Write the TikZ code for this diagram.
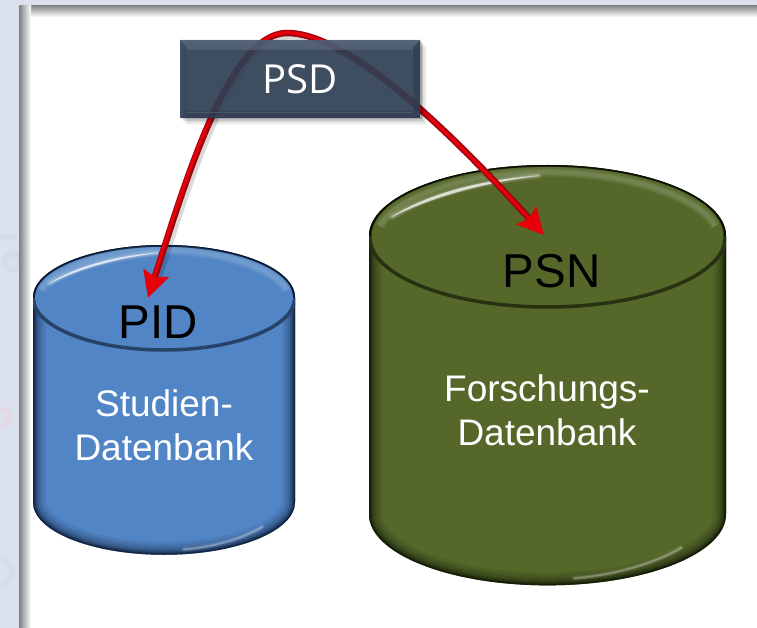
\documentclass[tikz,border=0pt]{standalone}
\usepackage{fontspec}
\setmainfont{Liberation Sans}
\newfontfamily\boxfont{Open Sans}
\usetikzlibrary{arrows.meta}
\definecolor{pagebg}{RGB}{219,226,238}
\definecolor{framegray}{RGB}{125,128,132}
\definecolor{bluebase}{RGB}{82,133,197}
\definecolor{bluedark}{RGB}{6,18,40}
\definecolor{bluerim}{RGB}{38,66,104}
\definecolor{olivebase}{RGB}{85,104,42}
\definecolor{olivedark}{RGB}{8,12,2}
\definecolor{oliverim}{RGB}{38,50,18}
\definecolor{boxbase}{RGB}{50,66,88}
\definecolor{boxlight}{RGB}{98,112,132}
\definecolor{boxdark}{RGB}{44,56,74}
\definecolor{arrowdark}{RGB}{160,5,15}
\definecolor{arrowbright}{RGB}{232,0,8}
\definecolor{ghost}{RGB}{208,215,228}
\definecolor{ghostpink}{RGB}{228,216,228}
\tikzset{
  cyllabel/.style={text=white,align=center,font=\fontsize{37}{44}\selectfont},
  keylabel/.style={text=black,font=\fontsize{47.5}{50}\selectfont},
  boxlabel/.style={text=white,font=\boxfont\fontsize{40}{44}\selectfont},
  redline/.style={line width=6.5pt,draw=arrowdark,
    >={Stealth[color=arrowbright,length=26pt,width=26pt,inset=4pt]}},
  redcore/.style={line width=3pt,draw=arrowbright},
}
% #1 cx, #2 cy of top ellipse, #3 rx, #4 ry, #5 body height in units of ry,
% #6 base, #7 dark, #8 rim, #9 node name
\newcommand{\dbcylinder}[9]{%
  \begin{scope}[shift={(#1,#2)},x=#3pt,y=-#4pt]
    \def\bodypath{(-1,0) .. controls (-1,-.552) and (-.552,-1) .. (0,-1)
      .. controls (.552,-1) and (1,-.552) .. (1,0) -- (1,#5)
      .. controls (1,#5+.552) and (.552,#5+1) .. (0,#5+1)
      .. controls (-.552,#5+1) and (-1,#5+.552) .. (-1,#5) -- cycle}
    \fill[#6] \bodypath;
    \begin{scope}
      \clip \bodypath;
      \foreach \w/\o in {26/.08,20/.10,15/.13,10/.20,6/.32,3/.50}{
        \draw[#7,line width=\w pt,opacity=\o] \bodypath;
      }
      % lower highlight
      \foreach \w/\o in {5/.07,3/.12,1.5/.22}{
        \draw[white,line width=\w pt,opacity=\o,line cap=round]
          (.15,#5+.90) .. controls (.35,#5+.86) and (.58,#5+.72) .. (.75,#5+.47);
      }
      % top face
      \fill[#6] (0,0) circle[radius=.985];
      \foreach \w/\o in {10/.05,7/.07,4/.08}{
        \draw[white,line width=\w pt,opacity=\o]
          (-.94,-.14) .. controls (-.85,-.55) and (-.45,-.90) .. (0,-.90)
          .. controls (.45,-.90) and (.85,-.55) .. (.94,-.14);
      }
      % upper left highlight
      \foreach \w/\o in {7/.08,5/.10,3/.14,1.5/.22}{
        \draw[white,line width=\w pt,opacity=\o,line cap=round,line join=round]
          (-.87,-.27) .. controls (-.66,-.60) and (-.34,-.78) .. (-.05,-.85);
      }
      \fill[white,opacity=.65] (-.87,-.27) .. controls (-.66,-.62) and (-.34,-.80) .. (-.05,-.85)
        .. controls (-.32,-.76) and (-.62,-.58) .. cycle;
      \draw[#8,line width=3.5pt] (-1,0) .. controls (-1,.552) and (-.552,1) .. (0,1)
        .. controls (.552,1) and (1,.552) .. (1,0);
      \draw[#7,line width=3.5pt,opacity=.8] (-1,0) .. controls (-1,-.552) and (-.552,-1) .. (0,-1)
        .. controls (.552,-1) and (1,-.552) .. (1,0);
    \end{scope}
    \node[inner sep=0pt,minimum width=0pt] (#9) at (0,0) {};
  \end{scope}
}
\begin{document}
\begin{tikzpicture}[x=1pt,y=-1pt]
  \useasboundingbox (0,0) rectangle (757,628);
  % page and panel
  \fill[pagebg] (0,0) rectangle (757,628);
  \draw[ghost,line width=6pt,opacity=.5] (13,262) circle[radius=8];
  \draw[ghost,line width=5pt,opacity=.5] (0,238) -- (16,236);
  \draw[ghostpink,line width=6pt,opacity=.7] (0,418) circle[radius=9];
  \draw[ghost,line width=6pt,opacity=.45] (0,572) circle[radius=12];
  \fill[white] (19,6) rectangle (757,628);
  \shade[left color=framegray,right color=white] (19,6) rectangle (31,628);
  \shade[top color=framegray,bottom color=white,opacity=.9] (19,6) rectangle (757,17);
  \shade[left color=framegray,right color=white] (19,6) rectangle (31,17);

  % cylinders
  \dbcylinder{164}{297.5}{131}{52.5}{3.9}{bluebase}{bluedark}{bluerim}{pidcyl}
  \dbcylinder{547.5}{236}{178.5}{71}{3.92}{olivebase}{olivedark}{oliverim}{psncyl}

  % texts in the cylinders
  \node[keylabel] (pid) at (158.5,322) {PID};
  \node[keylabel] (psn) at (551.5,271) {PSN};
  \node[cyllabel] (studien) at (164,425) {Studien-\\Datenbank};
  \node[cyllabel] (forschung) at (547,410) {Forschungs-\\Datenbank};

  % double arrow
  \coordinate (pidtip) at (148,298);
  \coordinate (peak) at (287,33);
  \coordinate (psntip) at (544,235);
  \draw[line width=7pt,black,opacity=.15,shorten <=22pt,shorten >=22pt,transform canvas={xshift=3pt,yshift=-3pt}]
    (pidtip) .. controls (183,190) and (228,33) .. (peak)
    .. controls (345,33) and (440,120) .. (psntip);
  \draw[redline,<->]
    (pidtip) .. controls (183,190) and (228,33) .. (peak)
    .. controls (345,33) and (440,120) .. (psntip);
  \draw[redcore,shorten <=18pt,shorten >=18pt,transform canvas={xshift=-.7pt,yshift=.4pt}]
    (pidtip) .. controls (183,190) and (228,33) .. (peak)
    .. controls (345,33) and (440,120) .. (psntip);

  % PSD box: shadow, translucent face, bevel
  \foreach \d/\o in {7/.05,5/.08,3/.12,1.5/.16}{
    \fill[black,opacity=\o] (180+\d,40+\d) rectangle (420+\d,118+\d);
  }
  \node[draw=none,fill=boxbase,fill opacity=.88,minimum width=240pt,minimum height=78pt,
        inner sep=0pt,anchor=north west] (psdbox) at (180,40) {};
  \fill[boxlight,opacity=.55] (180,40) -- (420,40) -- (413,48) -- (187,48) -- cycle;
  \fill[boxlight,opacity=.5] (187,48) rectangle (413,50);
  \fill[boxdark,opacity=.5] (420,40) -- (420,118) -- (413,111) -- (413,48) -- cycle;
  \fill[boxdark,opacity=.25] (180,40) -- (180,118) -- (187,111) -- (187,48) -- cycle;
  \fill[boxdark,opacity=.45] (180,118) -- (420,118) -- (413,111) -- (187,111) -- cycle;
  \draw[boxlight,line width=1pt,opacity=.45] (187,113) -- (413,113);
  \node[boxlabel] (psd) at (psdbox.center) {PSD};
\end{tikzpicture}
\end{document}
